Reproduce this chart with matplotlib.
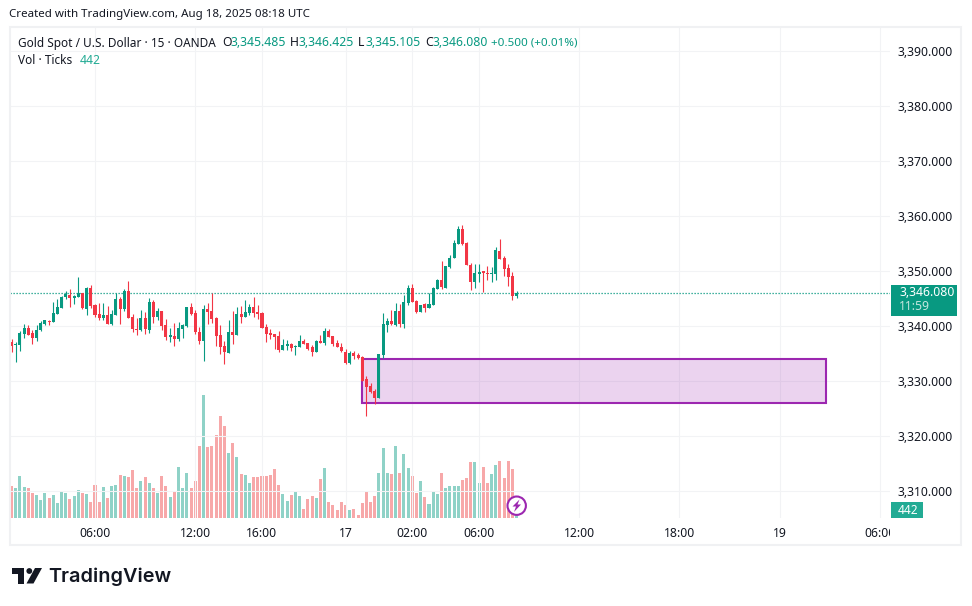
import matplotlib
matplotlib.use("Agg")
import matplotlib.pyplot as plt
import numpy as np
from matplotlib.patches import Rectangle, Circle, Polygon
from matplotlib.transforms import Bbox

opens = [
    3337.1, 3336.6, 3336.6, 3338.6, 3339.7, 3338.8, 3337.9, 3339.3, 3340.4, 3341.0,
    3340.8, 3342.2, 3343.3, 3345.3, 3345.7, 3345.1, 3345.3, 3346.0, 3343.1, 3347.0,
    3343.9, 3342.2, 3341.5, 3342.1, 3340.4, 3342.1, 3345.0, 3343.1, 3346.4, 3341.7,
    3339.5, 3339.3, 3341.5, 3339.3, 3344.4, 3341.7, 3342.8, 3340.2, 3338.1, 3338.2,
    3337.7, 3339.5, 3340.1, 3343.5, 3342.4, 3339.0, 3337.3, 3343.1, 3342.8, 3341.5,
    3338.4, 3336.4, 3335.1, 3339.0, 3338.4, 3342.2, 3341.7, 3342.4, 3343.5, 3342.6,
    3342.4, 3339.9, 3338.8, 3338.6, 3338.2, 3335.7, 3336.4, 3336.8, 3336.2, 3336.2,
    3337.3, 3337.0, 3336.2, 3335.3, 3337.3, 3337.0, 3339.1, 3338.2, 3337.0, 3336.2,
    3335.3, 3333.3, 3335.1, 3334.8, 3334.4, 3330.4, 3329.2, 3328.2, 3327.0, 3334.8,
    3340.2, 3341.0, 3340.2, 3342.8, 3340.4, 3344.2, 3347.0, 3344.6, 3342.6, 3344.0,
    3343.3, 3343.9, 3346.8, 3348.4, 3347.0, 3350.8, 3352.4, 3355.0, 3357.7, 3355.1,
    3351.2, 3348.1, 3349.5, 3350.1, 3349.7, 3349.5, 3349.5, 3353.7, 3352.4, 3350.6,
    3349.2, 3345.485,
]
highs = [
    3337.7, 3337.1, 3339.1, 3340.4, 3340.2, 3339.3, 3340.2, 3341.0, 3341.1, 3341.1,
    3344.4, 3345.0, 3345.5, 3346.4, 3346.8, 3345.7, 3349.0, 3346.0, 3347.1, 3347.5,
    3344.1, 3344.2, 3344.2, 3343.7, 3343.0, 3346.0, 3345.3, 3346.8, 3348.2, 3342.2,
    3341.5, 3343.0, 3342.6, 3345.1, 3344.8, 3343.3, 3342.8, 3341.3, 3339.7, 3340.6,
    3340.8, 3340.4, 3343.5, 3344.2, 3343.0, 3339.9, 3343.9, 3344.2, 3346.0, 3341.7,
    3340.2, 3337.3, 3341.1, 3342.8, 3343.5, 3343.7, 3344.8, 3344.1, 3345.3, 3343.9,
    3342.6, 3340.4, 3339.5, 3338.6, 3339.1, 3337.7, 3337.5, 3337.0, 3336.6, 3338.4,
    3337.7, 3337.0, 3336.6, 3337.5, 3338.4, 3339.7, 3339.5, 3338.2, 3337.5, 3337.0,
    3335.9, 3335.5, 3335.5, 3335.1, 3334.6, 3331.0, 3329.7, 3328.6, 3335.0, 3342.4,
    3341.5, 3343.0, 3344.2, 3344.1, 3345.7, 3347.5, 3347.7, 3344.8, 3343.9, 3344.2,
    3346.1, 3347.2, 3348.6, 3351.9, 3351.0, 3353.0, 3355.7, 3358.2, 3358.4, 3355.3,
    3351.5, 3351.3, 3351.3, 3350.1, 3351.0, 3350.8, 3354.4, 3355.9, 3352.8, 3351.3,
    3349.9, 3346.425,
]
lows = [
    3335.3, 3333.5, 3335.5, 3337.9, 3338.4, 3336.8, 3337.3, 3339.1, 3340.2, 3340.2,
    3340.8, 3342.2, 3343.3, 3345.0, 3343.5, 3344.1, 3345.3, 3343.1, 3342.1, 3343.3,
    3341.7, 3341.1, 3341.1, 3340.4, 3340.2, 3342.1, 3340.4, 3342.8, 3341.5, 3339.0,
    3338.4, 3339.1, 3338.6, 3338.8, 3340.6, 3341.1, 3339.3, 3337.5, 3337.1, 3336.4,
    3337.3, 3337.9, 3339.9, 3342.1, 3338.6, 3336.8, 3333.7, 3340.4, 3340.6, 3336.4,
    3335.0, 3333.1, 3335.1, 3336.8, 3338.4, 3340.6, 3341.7, 3342.1, 3341.7, 3341.3,
    3339.7, 3337.1, 3337.7, 3335.9, 3335.3, 3335.7, 3335.7, 3335.5, 3334.8, 3336.2,
    3336.8, 3335.7, 3334.6, 3335.3, 3337.0, 3336.6, 3338.1, 3336.4, 3336.2, 3335.3,
    3333.1, 3333.1, 3334.1, 3334.1, 3330.1, 3323.7, 3327.9, 3325.9, 3327.0, 3334.2,
    3339.0, 3340.2, 3340.1, 3339.9, 3339.7, 3343.9, 3344.4, 3342.4, 3342.6, 3342.6,
    3343.3, 3343.9, 3346.8, 3346.8, 3347.0, 3350.6, 3352.4, 3355.0, 3354.8, 3351.2,
    3346.6, 3347.0, 3348.1, 3346.2, 3348.4, 3348.1, 3348.4, 3352.2, 3349.2, 3347.3,
    3344.8, 3345.105,
]
closes = [
    3336.4, 3336.8, 3338.8, 3339.7, 3338.4, 3337.9, 3339.3, 3340.6, 3341.1, 3340.8,
    3342.4, 3343.5, 3345.3, 3345.9, 3345.1, 3345.5, 3346.0, 3343.3, 3347.0, 3343.7,
    3342.1, 3341.5, 3342.1, 3340.4, 3342.2, 3345.0, 3343.1, 3346.4, 3341.5, 3339.5,
    3339.3, 3341.5, 3339.5, 3344.4, 3341.7, 3342.8, 3340.1, 3338.1, 3338.4, 3337.7,
    3339.7, 3340.2, 3343.5, 3342.2, 3339.0, 3337.3, 3343.1, 3342.6, 3341.3, 3338.2,
    3336.2, 3335.3, 3339.0, 3338.4, 3342.2, 3341.7, 3342.6, 3343.5, 3342.4, 3342.2,
    3339.7, 3338.6, 3338.4, 3338.1, 3335.7, 3336.6, 3336.8, 3336.1, 3336.4, 3337.3,
    3336.8, 3335.9, 3335.3, 3337.3, 3337.0, 3339.1, 3338.1, 3336.8, 3336.2, 3335.5,
    3333.3, 3335.1, 3334.6, 3334.2, 3330.1, 3329.0, 3328.1, 3327.0, 3335.0, 3340.4,
    3341.0, 3340.4, 3342.8, 3340.4, 3344.4, 3347.0, 3344.4, 3342.6, 3343.9, 3343.3,
    3344.1, 3347.0, 3348.4, 3347.2, 3351.0, 3352.4, 3355.1, 3357.7, 3355.0, 3351.2,
    3348.1, 3349.7, 3349.9, 3349.7, 3349.5, 3349.7, 3353.9, 3352.2, 3350.4, 3349.0,
    3345.5, 3346.08,
]
volumes = [
    1920, 1800, 2520, 1860, 1800, 1500, 1380, 1080, 1500, 1200,
    1380, 900, 1620, 1500, 1140, 1320, 1680, 1500, 1440, 960,
    1980, 960, 1860, 1200, 1920, 1980, 2580, 2520, 2460, 2880,
    1800, 2220, 2460, 2100, 1800, 1500, 2520, 1920, 1260, 1620,
    3060, 1800, 2700, 1800, 2220, 4320, 7380, 4260, 4320, 4980,
    6120, 5520, 3900, 4500, 3660, 2640, 2580, 2100, 2460, 2460,
    2520, 2520, 2580, 2940, 1980, 1440, 1020, 1380, 1620, 1320,
    540, 1140, 1320, 1200, 2340, 3000, 960, 780, 480, 960,
    780, 480, 540, 180, 900, 1620, 960, 1320, 2700, 4200,
    2700, 2640, 4320, 2700, 3840, 3000, 2520, 1500, 2220, 1260,
    840, 1560, 1440, 2700, 1800, 1920, 1920, 1920, 2280, 2400,
    3360, 3360, 2100, 3060, 2100, 2640, 3180, 3420, 2400, 3420,
    2940, 442,
]

time_ticks = [20, 44, 60, 80, 96, 112, 136, 160, 184, 208]
time_labels = ["06:00", "12:00", "16:00", "17", "02:00", "06:00", "12:00", "18:00", "19", "06:00"]
price_ticks = [3310, 3320, 3330, 3340, 3350, 3360, 3370, 3380, 3390]

zone_start = 84
zone_end = 195
zone_top = 3334.05
zone_bottom = 3326.05

last_price = 3346.08

UP = "#089981"
DOWN = "#f23645"
UP_VOL = "#8fd2c7"
DOWN_VOL = "#f7a8a9"
GRID = "#f2f3f5"
TEXT = "#131722"
PURPLE = "#9c27b0"

plt.rcParams["font.family"] = ["Noto Sans", "DejaVu Sans"]

W, H = 972, 606
fig = plt.figure(figsize=(W / 100, H / 100), dpi=100, facecolor="white")

# plot area in pixels: x 10-890, y 27-518
pos = [10 / W, 1 - 518 / H, 880 / W, 491 / H]
x_lim = (-0.36, 210.42)

opens_a = np.array(opens)
closes_a = np.array(closes)
x = np.arange(len(opens))
up = closes_a >= opens_a

# volume pane sits under the candles, same box
ax_vol = fig.add_axes(pos, zorder=0)
ax_vol.bar(x, volumes, width=0.72, color=[UP_VOL if u else DOWN_VOL for u in up])
ax_vol.set_xlim(*x_lim)
ax_vol.set_ylim(0, 29460)
ax_vol.axis("off")

ax = fig.add_axes(pos, zorder=1)
ax.patch.set_visible(False)
ax.set_xlim(*x_lim)
ax.set_ylim(3305.15, 3394.42)
ax.set_axisbelow(True)
ax.grid(True, color=GRID, linewidth=0.8)
for s in ax.spines.values():
    s.set_visible(False)

ax.add_patch(Rectangle((zone_start, zone_bottom), zone_end - zone_start, zone_top - zone_bottom,
                       facecolor=PURPLE, alpha=0.2, edgecolor="none", zorder=1))
ax.add_patch(Rectangle((zone_start, zone_bottom), zone_end - zone_start, zone_top - zone_bottom,
                       facecolor="none", edgecolor=PURPLE, linewidth=1.5, zorder=1.5))

ax.axhline(last_price, color=UP, linewidth=0.9, linestyle=(0, (1, 1.4)), zorder=1.8)

colors = [UP if u else DOWN for u in up]
ax.vlines(x, lows, highs, colors=colors, linewidth=0.8, zorder=2)
bottoms = np.minimum(opens_a, closes_a)
heights = np.maximum(np.abs(closes_a - opens_a), 0.18)
ax.bar(x, heights, bottom=bottoms, width=0.72, color=colors, zorder=3)

ax.set_xticks(time_ticks)
ax.set_xticklabels(time_labels)
ax.set_yticks(price_ticks)
ax.set_yticklabels([f"{p:,.3f}" for p in price_ticks])
ax.yaxis.tick_right()
ax.tick_params(axis="y", length=0, pad=5.2, labelsize=8.8, labelcolor=TEXT)
ax.tick_params(axis="x", length=0, pad=6.3, labelsize=8.8, labelcolor=TEXT)
for lab in ax.get_xticklabels():
    # last label runs into the price scale and gets cut there
    lab.set_clip_on(True)
    lab.set_clip_box(Bbox([[10, 0], [890, H]]))
    if lab.get_text() in ("17", "19"):
        lab.set_fontweight("bold")

# overlay in pixel coordinates for the chrome around the chart
over = fig.add_axes([0, 0, 1, 1], zorder=5)
over.set_xlim(0, W)
over.set_ylim(H, 0)
over.axis("off")
over.patch.set_visible(False)

over.add_patch(Rectangle((10, 27), 951, 518, facecolor="none", edgecolor="#f0f1f3", linewidth=1.5))

over.text(9, 15, "Created with TradingView.com, Aug 18, 2025 08:18 UTC", fontsize=8.3,
          color=TEXT, va="center")

legend_parts = [
    (18, "Gold Spot / U.S. Dollar · 15 · OANDA", 8.5, TEXT),
    (222, "O", 8.8, TEXT), (230, "3,345.485", 8.8, UP),
    (290, "H", 8.8, TEXT), (298, "3,346.425", 8.8, UP),
    (358, "L", 8.8, TEXT), (365, "3,345.105", 8.8, UP),
    (425, "C", 8.8, TEXT), (432, "3,346.080", 8.8, UP),
    (491, "+0.500 (+0.01%)", 8.4, UP),
]
for px, s, fs, c in legend_parts:
    over.text(px, 43, s, fontsize=fs, color=c, va="center")
over.text(18, 60, "Vol · Ticks", fontsize=8.5, color=TEXT, va="center")
over.text(80, 60, "442", fontsize=8.8, color="#22ab94", va="center")

# last price tag
over.add_patch(Rectangle((891, 285), 66, 31, facecolor=UP, edgecolor="none"))
over.text(899, 293, "3,346.080", fontsize=8.8, color="white", va="center", fontweight="semibold")
over.text(899, 306.5, "11:59", fontsize=8.8, color="#c4e6df", va="center")

# volume tag
over.add_patch(Rectangle((891, 502), 32, 16, facecolor="#22ab94", edgecolor="none"))
over.text(908, 510, "442", fontsize=8.6, color="white", va="center", ha="center", fontweight="bold")

# lightning badge
over.add_patch(Circle((516.7, 505.7), 9.2, facecolor="white", edgecolor=PURPLE, linewidth=1.5))
over.add_patch(Polygon([(519.5, 499.5), (512.5, 506.5), (516, 506.5), (514, 512), (521, 504.5), (517.5, 504.5)],
                       closed=True, facecolor=PURPLE, edgecolor="none"))

# TradingView logo
LOGO = "#131722"
over.add_patch(Polygon([(12, 568), (24, 568), (24, 583.5), (18, 583.5), (18, 574), (12, 574)],
                       closed=True, facecolor=LOGO, edgecolor="none"))
over.add_patch(Circle((29.3, 571), 2.9, facecolor=LOGO, edgecolor="none"))
over.add_patch(Polygon([(35, 568), (42, 568), (33.5, 583.5), (26.5, 583.5)],
                       closed=True, facecolor=LOGO, edgecolor="none"))
over.text(48, 576.5, "TradingView", fontsize=14.3, color=LOGO, va="center", family="Inter", fontweight="semibold")

fig.savefig("out.png", dpi=100)
